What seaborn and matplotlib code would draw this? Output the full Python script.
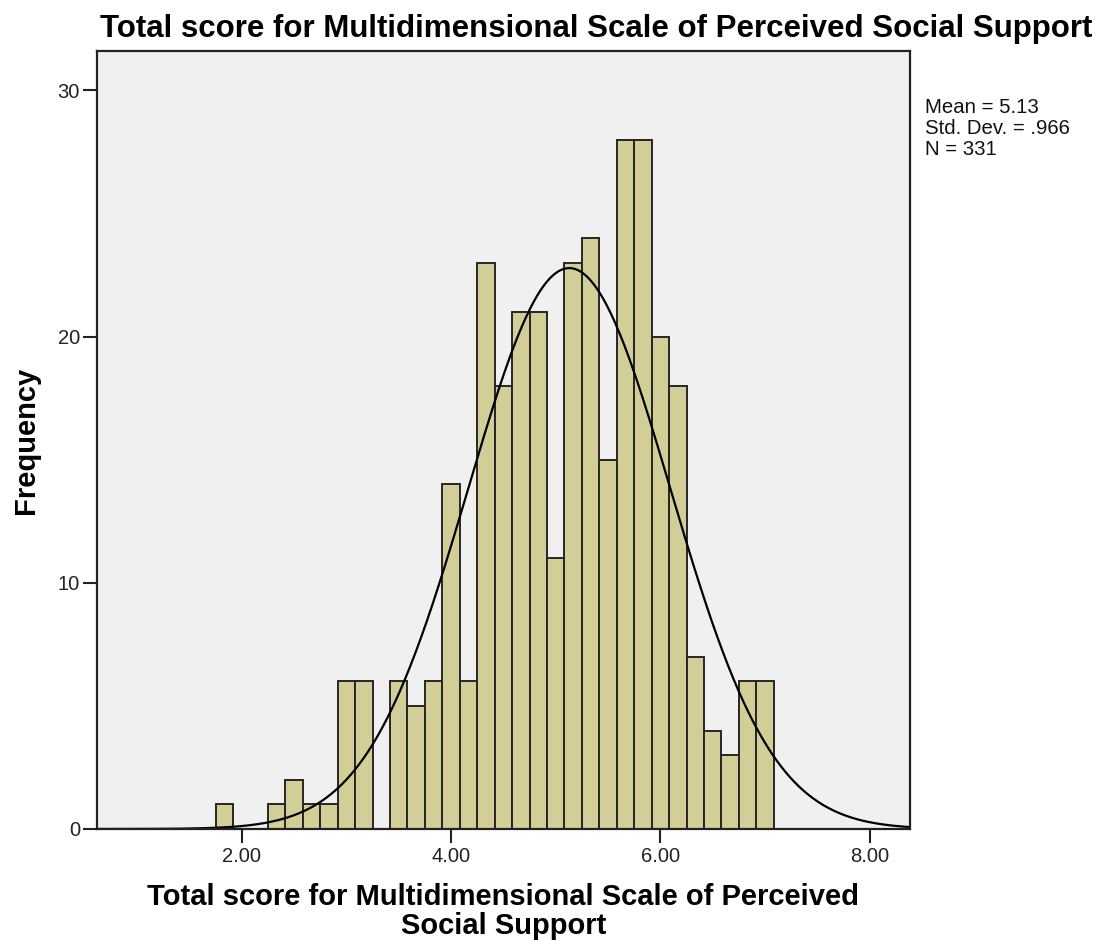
import numpy as np
import pandas as pd
import matplotlib
matplotlib.use("Agg")
import matplotlib.pyplot as plt
import seaborn as sns

# ---- data ----
bin_start = 1.75
bin_width = 1.0 / 6.0
frequencies = [1, 0, 0, 1, 2, 1, 1, 6, 6, 0, 6, 5, 6, 14, 6, 23,
               18, 21, 21, 11, 23, 24, 15, 28, 28, 20, 18, 7, 4, 3, 6, 6]
stat_mean = 5.13
stat_sd = 0.966
stat_n = 331
x_ticks = [2, 4, 6, 8]
x_tick_labels = ["2.00", "4.00", "6.00", "8.00"]
y_ticks = [0, 10, 20, 30]
title_text = "Total score for Multidimensional Scale of Perceived Social Support"
xlabel_text = "Total score for Multidimensional Scale of Perceived\nSocial Support"
ylabel_text = "Frequency"
stats_lines = ["Mean = 5.13", "Std. Dev. = .966", "N = 331"]

n_bins = len(frequencies)
bin_end = bin_start + bin_width * n_bins
centers = bin_start + bin_width * (np.arange(n_bins) + 0.5)
df = pd.DataFrame({"score": centers, "freq": frequencies})

sns.set_theme(style="ticks")
plt.rcParams["font.family"] = ["Liberation Sans", "DejaVu Sans"]

W, H = 1109, 949
fig = plt.figure(figsize=(W / 100, H / 100), dpi=100)
fig.patch.set_facecolor("white")

left, right, top, bottom = 96.7, 910.0, 51.0, 829.0
ax = fig.add_axes([left / W, 1 - bottom / H, (right - left) / W, (bottom - top) / H])
ax.set_facecolor("#F0F0F0")

sns.histplot(data=df, x="score", weights="freq", binwidth=bin_width,
             binrange=(bin_start, bin_end), ax=ax,
             color="#D3CE97", edgecolor="#262626", linewidth=1.4, alpha=1.0)

xmin, xmax = 0.615, 8.385
xs = np.linspace(xmin, xmax, 600)
ys = stat_n * bin_width * np.exp(-0.5 * ((xs - stat_mean) / stat_sd) ** 2) / (stat_sd * np.sqrt(2 * np.pi))
sns.lineplot(x=xs, y=ys, color="black", linewidth=1.6, ax=ax)

ax.set_xlim(xmin, xmax)
ax.set_ylim(0, 31.6)
ax.set_xticks(x_ticks)
ax.set_xticklabels(x_tick_labels)
ax.set_yticks(y_ticks)
ax.set_yticklabels([str(v) for v in y_ticks])
ax.tick_params(axis="both", length=10, width=1.5, color="#222222",
               labelsize=14.5, labelcolor="#222222")
ax.tick_params(axis="x", pad=3)
ax.tick_params(axis="y", pad=2)
for sp in ax.spines.values():
    sp.set_visible(True)
    sp.set_linewidth(1.6)
    sp.set_color("#222222")

ax.set_xlabel(xlabel_text, fontsize=21, fontweight="bold", color="black",
              labelpad=12, linespacing=1.08)
ax.set_ylabel(ylabel_text, fontsize=21, fontweight="bold", color="black",
              labelpad=13)

fig.text(100 / W, 1 - 37 / H, title_text, fontsize=22.5, fontweight="bold",
         ha="left", va="baseline", color="black")

for i, line in enumerate(stats_lines):
    fig.text(925 / W, 1 - (113 + 21 * i) / H, line, fontsize=14.7,
             ha="left", va="baseline", color="#111111")

fig.savefig("out.png", dpi=100, facecolor="white")
